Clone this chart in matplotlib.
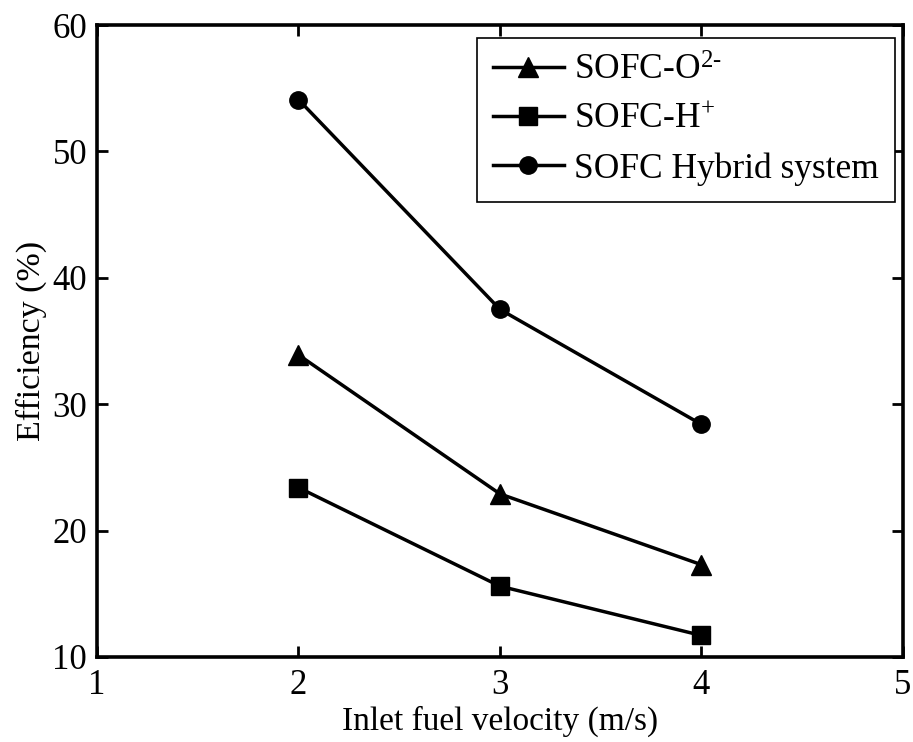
import matplotlib
matplotlib.use("Agg")
import matplotlib.pyplot as plt

plt.rcParams['font.family'] = ['Liberation Serif', 'DejaVu Serif']
plt.rcParams['mathtext.fontset'] = 'custom'
plt.rcParams['mathtext.rm'] = 'Liberation Serif'
plt.rcParams['mathtext.it'] = 'Liberation Serif:italic'

# Inlet fuel velocity (m/s)
velocity = [2, 3, 4]
# Efficiency (%)
eff_oxide = [33.9, 22.9, 17.3]
eff_proton = [23.4, 15.6, 11.7]
eff_hybrid = [54.1, 37.5, 28.4]

series_labels = [r'SOFC-O$^{\text{2-}}$', r'SOFC-H$^{\text{+}}$', 'SOFC Hybrid system']
x_ticks = [1, 2, 3, 4, 5]
y_ticks = [10, 20, 30, 40, 50, 60]

fig = plt.figure(figsize=(9.13, 7.42), dpi=100)
ax = fig.add_axes([0.1062, 0.1146, 0.8828, 0.8517])

line_kw = dict(color='black', linewidth=2.5, markeredgewidth=1.0,
               markerfacecolor='black', markeredgecolor='black')
ax.plot(velocity, eff_oxide, marker='^', markersize=14, label=series_labels[0], **line_kw)
ax.plot(velocity, eff_proton, marker='s', markersize=12.5, label=series_labels[1], **line_kw)
ax.plot(velocity, eff_hybrid, marker='o', markersize=12.5, label=series_labels[2], **line_kw)

ax.set_xlim(1, 5)
ax.set_ylim(10, 60)
ax.set_xticks(x_ticks)
ax.set_yticks(y_ticks)
ax.tick_params(direction='in', length=8, width=2, labelsize=25,
               top=True, right=True)
ax.tick_params(axis='x', pad=9)
ax.tick_params(axis='y', pad=7)
for s in ax.spines.values():
    s.set_linewidth(2.6)

ax.set_xlabel('Inlet fuel velocity (m/s)', fontsize=24, labelpad=2)
ax.set_ylabel('Efficiency (%)', fontsize=24.5, labelpad=4)

leg = ax.legend(loc='upper right', fontsize=25.5, frameon=True, fancybox=False,
                edgecolor='black', framealpha=1, handlelength=2.0,
                borderpad=0.45, labelspacing=0.45, handletextpad=0.3,
                borderaxespad=0.0, bbox_to_anchor=(0.990, 0.979))
leg.get_frame().set_linewidth(1.2)

fig.savefig('out.png', dpi=100)
